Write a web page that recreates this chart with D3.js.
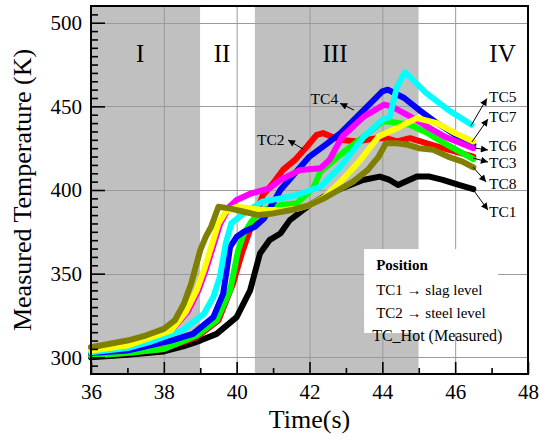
<!DOCTYPE html>
<html><head><meta charset="utf-8">
<script src="https://cdn.jsdelivr.net/npm/d3@7"></script>
<style>html,body{margin:0;padding:0;background:#fff;}svg{display:block;}</style>
</head><body>
<svg id="chart" width="539" height="441"></svg>
<script>
// ---------- data ----------
const xDomain = [36, 48];
const yDomain = [290, 510];
const xTicks = [36, 38, 40, 42, 44, 46, 48];
const yTicks = [300, 350, 400, 450, 500];
const phaseNames = ["I", "II", "III", "IV"];
const phaseStarts = [36, 39, 40.5, 45];
const phaseEnds = [39, 40.5, 45, 48];
const phaseShaded = [true, false, true, false];
const phaseLabelX = [37.35, 39.6, 42.7, 47.3];

const seriesNames = ["TC1", "TC2", "TC3", "TC4", "TC6", "TC5", "TC7", "TC8"];
const seriesColors = ["#000000", "#ff0000", "#00ff00", "#0000ff", "#ff00ff", "#00ffff", "#ffff00", "#808000"];

const tc1T = [36, 37, 38, 38.53, 39.0, 39.45, 40.0, 40.37, 40.64, 40.9, 41.2, 41.46, 42.0, 42.56, 43.0, 43.47, 43.93, 44.2, 44.43, 44.95, 45.3, 45.66, 46.1, 46.5];
const tc1V = [300, 301.5, 303.5, 306.5, 310, 314, 324, 340, 362, 370, 374, 382, 391, 398, 402, 406, 408, 406, 403, 408, 408, 406, 403, 400.5];

const tc2T = [36, 37, 38, 38.9, 39.5, 39.9, 40.14, 40.3, 40.72, 41.0, 41.27, 41.6, 41.93, 42.2, 42.37, 42.6, 42.84, 43.3, 43.85, 44.1, 44.4, 44.76, 45.2, 45.66, 46.5];
const tc2V = [301, 302.5, 305, 312, 322, 344, 362, 372, 397, 404, 412, 418, 426, 433, 434, 432, 430, 429, 431, 431, 429, 431, 428, 425, 420];

const tc3T = [36, 37, 38, 38.9, 39.45, 39.82, 40.04, 40.2, 40.4, 40.7, 41.2, 41.65, 42.1, 42.3, 42.9, 43.5, 44.0, 44.15, 44.75, 45.2, 45.7, 46.5];
const tc3V = [301, 302.5, 305, 313, 322, 340, 364, 374, 381, 388, 391, 392, 401, 411, 422, 432, 441, 441, 439, 434.5, 428, 418.5];

const tc4T = [36, 37, 37.6, 38.2, 38.8, 39.36, 39.63, 39.82, 40.0, 40.2, 40.5, 40.75, 41.2, 41.6, 42.0, 42.5, 42.85, 43.5, 44.0, 44.15, 44.6, 45.0, 45.5, 46.0, 46.5];
const tc4V = [302.5, 304, 307, 310, 314, 324, 338, 366, 372, 375, 378, 383, 400, 410, 420, 428, 434, 448, 459, 460, 455, 448, 440, 433, 427];

const tc5T = [36, 37, 37.6, 38.5, 39.1, 39.36, 39.54, 39.7, 39.85, 40.2, 40.7, 41.2, 41.65, 42.3, 42.85, 43.5, 44.0, 44.2, 44.4, 44.62, 45.2, 45.8, 46.45];
const tc5V = [303, 305.5, 309, 316, 326, 336, 348, 368, 380, 386, 393, 395, 397, 402, 414, 432, 442, 443.5, 461.5, 470.5, 458, 448, 439];

const tc6T = [36, 37, 37.6, 38.2, 38.65, 38.95, 39.15, 39.35, 39.55, 39.8, 40.0, 40.4, 40.9, 41.2, 41.75, 42.3, 42.55, 42.9, 43.5, 44.05, 44.25, 44.85, 45.3, 45.7, 46.5];
const tc6V = [306, 307.5, 311, 316, 327, 340, 352, 366, 380, 390, 394, 398, 401, 406, 412, 413, 418, 432, 444, 451, 450, 443, 437, 432, 425];

const tc7T = [36, 37, 37.6, 38.2, 38.6, 38.9, 39.1, 39.3, 39.5, 39.7, 40.0, 40.7, 41.3, 41.7, 42.0, 42.4, 42.9, 43.4, 43.9, 44.5, 44.95, 45.5, 46.0, 46.5];
const tc7V = [304, 307, 311.5, 316, 327, 340, 352, 366, 380, 387, 390, 388, 388, 389, 391, 395.5, 406, 418, 432, 438, 443, 440, 434, 429];

const tc8T = [36, 37, 37.5, 38, 38.3, 38.55, 38.75, 38.9, 39.0, 39.15, 39.3, 39.5, 39.8, 40.2, 40.6, 41.0, 41.5, 42.0, 42.4, 42.8, 43.2, 43.6, 43.9, 44.1, 44.4, 44.7, 45.0, 45.4, 45.8, 46.2, 46.5];
const tc8V = [306, 310, 313, 317, 322, 332, 344, 356, 364, 372, 378, 390, 389, 387, 385, 386, 388, 391, 395, 400, 405, 412, 420, 428, 428, 427, 425, 424, 420, 417, 413.5];

const seriesT = [tc1T, tc2T, tc3T, tc4T, tc6T, tc5T, tc7T, tc8T];
const seriesV = [tc1V, tc2V, tc3V, tc4V, tc6V, tc5V, tc7V, tc8V];

// annotations (data units): label position, arrow tail (near curve), arrow head (near label)
const annNames = ["TC4", "TC2", "TC5", "TC7", "TC6", "TC3", "TC8", "TC1"];
const annTextT = [42.03, 40.56, 46.93, 46.93, 46.93, 46.93, 46.93, 46.93];
const annTextV = [451.4, 426.9, 452.6, 440.6, 423.2, 413.2, 400.6, 383.8];
const annTailT = [43.22, 41.82, 46.43, 46.46, 46.54, 46.49, 46.49, 46.54];
const annTailV = [447.8, 424.5, 438.2, 428.7, 425.1, 419.1, 413.7, 398.8];
const annHeadT = [42.84, 41.41, 46.87, 46.90, 46.90, 46.90, 46.85, 46.90];
const annHeadV = [451.8, 429.9, 454.7, 442.4, 423.9, 416.7, 404.8, 388.0];

const legendTitle = "Position";
const legendLines = ["TC1 \u2192 slag level", "TC2 \u2192 steel level"];
const noteText = "TC_Hot (Measured)";
const xTitle = "Time(s)";
const yTitle = "Measured Temperature (K)";

// ---------- drawing ----------
const serif = "'Liberation Serif','Times New Roman',serif";
const m = {left: 91, top: 6, right: 528, bottom: 374};
const svg = d3.select("#chart");
const x = d3.scaleLinear().domain(xDomain).range([m.left, m.right]);
const y = d3.scaleLinear().domain(yDomain).range([m.bottom, m.top]);

// phase shading
svg.append("g").selectAll("rect").data(phaseNames).join("rect")
  .attr("x", (d, i) => x(phaseStarts[i]))
  .attr("width", (d, i) => x(phaseEnds[i]) - x(phaseStarts[i]))
  .attr("y", m.top).attr("height", m.bottom - m.top)
  .attr("fill", (d, i) => phaseShaded[i] ? "#c0c0c0" : "#ffffff");

// gridlines
const grid = svg.append("g").attr("stroke", "#9a9a9a").attr("stroke-width", 1);
grid.selectAll("line.gx").data(xTicks.filter(v => v > xDomain[0] && v < xDomain[1])).join("line")
  .attr("x1", d => x(d) + 0.5).attr("x2", d => x(d) + 0.5).attr("y1", m.top).attr("y2", m.bottom);
grid.selectAll("line.gy").data(yTicks).join("line")
  .attr("y1", d => Math.round(y(d)) + 0.5).attr("y2", d => Math.round(y(d)) + 0.5).attr("x1", m.left).attr("x2", m.right);

// phase labels
svg.append("g").selectAll("text").data(phaseNames).join("text")
  .attr("x", (d, i) => x(phaseLabelX[i])).attr("y", 62)
  .attr("text-anchor", "middle").attr("font-family", serif).attr("font-size", 25)
  .text(d => d);

// series lines
const line = d3.line().x(d => x(d[0])).y(d => y(d[1])).curve(d3.curveLinear);
svg.append("g").selectAll("path").data(seriesNames).join("path")
  .attr("d", (d, i) => line(seriesT[i].map((t, j) => [t, seriesV[i][j]])))
  .attr("fill", "none").attr("stroke", (d, i) => seriesColors[i])
  .attr("stroke-width", 6).attr("stroke-linejoin", "round").attr("stroke-linecap", "round");

// legend box
const lb = svg.append("g");
lb.append("rect").attr("x", x(43.5)).attr("y", y(364.7))
  .attr("width", x(47.18) - x(43.5)).attr("height", y(314.5) - y(364.7)).attr("fill", "#fff");
lb.append("text").attr("x", x(43.83)).attr("y", y(352)).attr("font-family", serif)
  .attr("font-size", 15).attr("font-weight", "bold").text(legendTitle);
lb.selectAll("text.l").data(legendLines).join("text").attr("class", "l")
  .attr("x", x(43.83)).attr("y", (d, i) => y(337.5 - i * 14.3)).attr("font-family", serif)
  .attr("font-size", 15).text(d => d);
svg.append("text").attr("x", x(43.72)).attr("y", y(309.5)).attr("font-family", serif)
  .attr("font-size", 16).text(noteText);

// annotations
const defs = svg.append("defs");
defs.append("marker").attr("id", "ah").attr("viewBox", "0 0 10 10").attr("refX", 10).attr("refY", 5)
  .attr("markerWidth", 9).attr("markerHeight", 7).attr("markerUnits", "userSpaceOnUse").attr("orient", "auto")
  .append("path").attr("d", "M0,0 L10,5 L0,10 z").attr("fill", "#000");
const ann = svg.append("g");
ann.selectAll("line").data(annNames).join("line")
  .attr("x1", (d, i) => x(annTailT[i])).attr("y1", (d, i) => y(annTailV[i]))
  .attr("x2", (d, i) => x(annHeadT[i])).attr("y2", (d, i) => y(annHeadV[i]))
  .attr("stroke", "#000").attr("stroke-width", 1).attr("marker-end", "url(#ah)");
ann.selectAll("text").data(annNames).join("text")
  .attr("x", (d, i) => x(annTextT[i])).attr("y", (d, i) => y(annTextV[i]))
  .attr("font-family", serif).attr("font-size", 15.5).text(d => d);

// axes
const axX = svg.append("g").attr("transform", `translate(0,${m.bottom})`)
  .call(d3.axisBottom(x).tickValues(xTicks).tickSize(-12).tickPadding(10).tickFormat(d3.format("d")));
const axXm = svg.append("g").attr("transform", `translate(0,${m.bottom})`)
  .call(d3.axisBottom(x).tickValues(d3.range(37, 48, 2)).tickSize(-6).tickFormat(""));
const axY = svg.append("g").attr("transform", `translate(${m.left},0)`)
  .call(d3.axisLeft(y).tickValues(yTicks).tickSize(-14).tickPadding(9).tickFormat(d3.format("d")));
const axYm = svg.append("g").attr("transform", `translate(${m.left},0)`)
  .call(d3.axisLeft(y).tickValues(d3.range(295, 510, 5).filter(v => v % 50 !== 0)).tickSize(-7).tickFormat(""));
[axX, axXm, axY, axYm].forEach(a => {
  a.select(".domain").remove();
  a.selectAll(".tick line").attr("stroke", "#000").attr("stroke-width", 1.6);
  a.selectAll("text").attr("font-family", serif).attr("font-size", 21).attr("fill", "#000");
});

// frame
svg.append("rect").attr("x", m.left).attr("y", m.top).attr("width", m.right - m.left).attr("height", m.bottom - m.top)
  .attr("fill", "none").attr("stroke", "#000").attr("stroke-width", 2);

// axis titles
svg.append("text").attr("x", (m.left + m.right) / 2).attr("y", 428).attr("text-anchor", "middle")
  .attr("font-family", serif).attr("font-size", 26).text(xTitle);
svg.append("text").attr("transform", `translate(31,${(m.top + m.bottom) / 2}) rotate(-90)`).attr("text-anchor", "middle")
  .attr("font-family", serif).attr("font-size", 26).text(yTitle);
</script>
</body></html>
